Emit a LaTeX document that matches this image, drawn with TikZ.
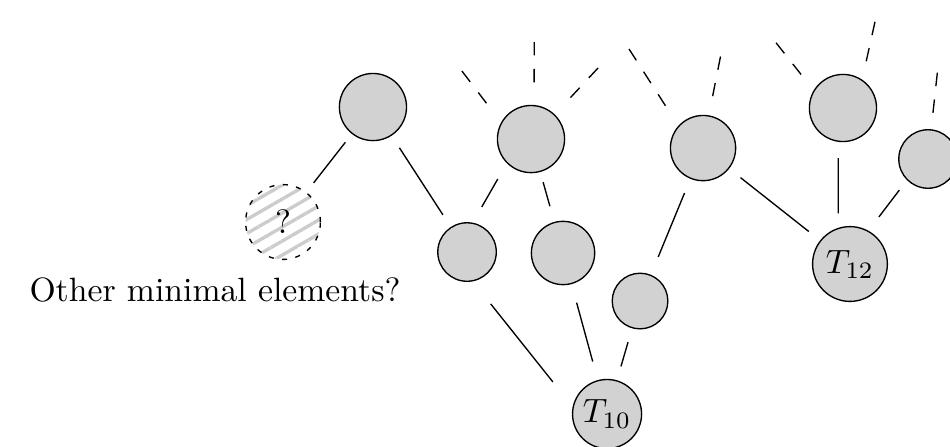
\documentclass[tikz,border=0pt]{standalone}
\usetikzlibrary{patterns.meta}
\begin{document}
\begin{tikzpicture}[x=1cm,y=1cm,
  elem/.style={circle,draw,fill=gray!35,inner sep=1pt,minimum size=#1},
  elem/.default=0.7cm,
  edge/.style={shorten <=0.15cm,shorten >=0.15cm},
  stub/.style={dash pattern=on 4pt off 4pt,shorten >=0.15cm}]
 \useasboundingbox (0,0) rectangle (9.906,4.651);
 % elements
 \node[elem] (A) at (3.889,3.535) {};
 \node[elem] (B) at (5.537,3.201) {};
 \node[elem=0.68cm] (C) at (7.331,3.107) {};
 \node[elem] (D) at (8.790,3.525) {};
 \node[elem=0.61cm] (E) at (9.677,2.993) {};
 \node[elem=0.61cm] (F) at (4.870,2.023) {};
 \node[elem=0.66cm] (G) at (5.871,2.013) {};
 \node[elem=0.58cm] (H) at (6.674,1.512) {};
 \node[elem=0.78cm] (T12) at (8.863,1.898) {$T_{12}$};
 \node[elem=0.72cm] (T10) at (6.330,0.334) {$T_{10}$};
 \node[circle,minimum size=0.78cm,
   pattern={Lines[angle=30,distance=3.6pt,line width=1pt]},pattern color=gray!40,
   postaction={draw,dash pattern=on 1.5pt off 2.5pt}] (Q) at (2.951,2.336) {?};
 \node[anchor=base] (other) at (2.242,1.512) {Other minimal elements?};
 % order
 \draw[edge,shorten <=0.11cm,shorten >=0.11cm] (A) -- (Q);
 \draw[edge] (A) -- (F);
 \draw[edge,shorten <=0.19cm,shorten >=0.19cm] (B.225) -- (F.79);
 \draw[edge,shorten <=0.11cm,shorten >=0.17cm] (B) -- (G);
 \draw[edge,shorten <=0.16cm,shorten >=0.2cm] (C) -- (H);
 \draw[edge] (C) -- (T12);
 \draw[edge,shorten <=0.17cm] (D.-98) -- (T12.108);
 \draw[edge,shorten <=0.13cm,shorten >=0.18cm] (E.225) -- (T12.61);
 \draw[edge,shorten <=0.3cm,shorten >=0.33cm] (F.-79) -- (T10.168);
 \draw[edge,shorten <=0.2cm,shorten >=0.2cm] (G) -- (T10);
 \draw[edge] (H) -- (T10);
 % upward, unfinished
 \coordinate (b1) at (4.817,3.910);
 \coordinate (b2) at (5.571,4.213);
 \coordinate (b3) at (6.236,3.942);
 \coordinate (c1) at (6.559,4.140);
 \coordinate (c2) at (7.513,4.062);
 \coordinate (d1) at (8.092,4.205);
 \coordinate (d2) at (9.124,4.424);
 \coordinate (e1) at (9.774,3.893);
 \draw[stub] (b1) -- (B.151);
 \draw[stub] (b2) -- (B.85);
 \draw[stub] (b3) -- (B.46);
 \draw[stub] (c1) -- (C.138);
 \draw[stub] (c2) -- (C.80);
 \draw[stub] (d1) -- (D.149);
 \draw[stub] (d2) -- (D.56);
 \draw[stub] (e1) -- (E.84);
\end{tikzpicture}
\end{document}
